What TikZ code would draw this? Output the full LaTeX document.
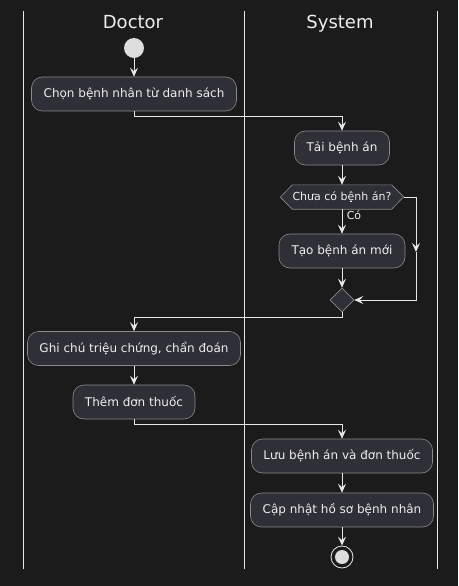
\documentclass[tikz,border=0pt]{standalone}
\usepackage{fontspec}
\setmainfont{DejaVu Sans}
\usetikzlibrary{arrows.meta,shapes.geometric,backgrounds,calc}
\definecolor{bgc}{HTML}{1B1B1B}
\definecolor{nodefill}{HTML}{2E2F37}
\definecolor{nodeborder}{HTML}{8A8A8A}
\definecolor{linec}{HTML}{E6E6E6}
\definecolor{txtc}{HTML}{EEEEEE}
\definecolor{dotc}{HTML}{DDDDDD}
\begin{document}
\begin{tikzpicture}[x=1pt,y=-1pt,
  act/.style={draw=nodeborder, fill=nodefill, rounded corners=11pt, line width=0.6pt,
    minimum height=34pt, inner sep=0pt, text=txtc, font=\fontsize{12}{14}\selectfont},
  arr/.style={draw=linec, line width=0.9pt, -{Stealth[length=9pt,width=8pt,inset=3.5pt]}},
  lane/.style={draw=linec, line width=1pt},
  title/.style={text=txtc, font=\fontsize{18}{20}\selectfont, anchor=base, inner sep=0pt}]
\begin{scope}[on background layer]
\fill[bgc] (0,0) rectangle (458,586);
\end{scope}
\useasboundingbox (0,0) rectangle (458,586);
% lanes
\draw[lane] (23,11) -- (23,569);
\draw[lane] (244,11) -- (244,569);
\draw[lane] (437,11) -- (437,569);
\node[title] (tdoc) at (133,29) {Doctor};
\node[title] (tsys) at (340,29) {System};
% nodes
\node[circle, fill=dotc, minimum size=20pt, inner sep=0pt] (start) at (134,48) {};
\node[act, minimum width=205pt] (n1) at (134,94) {Chọn bệnh nhân từ danh sách};
\node[act, minimum width=95pt] (n2) at (342,148) {Tải bệnh án};
\node[minimum width=99pt, minimum height=24pt, inner sep=0pt, text=txtc, font=\fontsize{11}{13}\selectfont] (dec) at (342,197) {Chưa có bệnh án?};
\begin{scope}[on background layer]
\draw[draw=nodeborder, fill=nodefill, line width=0.6pt] (dec.north west) -- (dec.north east) -- ++(12,12) -- (dec.south east) -- (dec.south west) -- ++(-12,-12) -- cycle;
\end{scope}
\coordinate (decR) at ($(dec.east)+(12,0)$);
\node[act, minimum width=126pt] (n3) at (342,251) {Tạo bệnh án mới};
\node[diamond, draw=nodeborder, fill=nodefill, line width=0.6pt, minimum size=24pt, inner sep=0pt] (merge) at (342,300) {};
\node[act, minimum width=213pt] (n4) at (134,348.5) {Ghi chú triệu chứng, chẩn đoán};
\node[act, minimum width=122pt] (n5) at (134,402) {Thêm đơn thuốc};
\node[act, minimum width=181pt] (n6) at (342,456) {Lưu bệnh án và đơn thuốc};
\node[act, minimum width=183pt] (n7) at (342,510) {Cập nhật hồ sơ bệnh nhân};
\node[circle, draw=linec, fill=bgc, line width=0.8pt, minimum size=22pt, inner sep=0pt] (stop) at (342,557) {};
\node[circle, fill=dotc, minimum size=14pt, inner sep=0pt] (stopin) at (342,557) {};
% connectors
\draw[arr] (start) -- (n1);
\draw[arr] (n1.south) -- ++(0,5) -| (n2.north);
\draw[arr] (n2) -- (dec.north);
\draw[arr] (dec) -- (n3) node[pos=0.25, right=1pt, text=txtc, font=\fontsize{11}{13}\selectfont] (co) {Có};
\coordinate (rtop) at (416,197);
\coordinate (rmid) at (416,252);
\coordinate (rbot) at (416,300);
\draw[arr] (decR) -- (rtop) -- (rmid);
\draw[arr] (rmid) -- (rbot) -- (merge.east);
\draw[arr] (n3) -- (merge);
\draw[arr] (merge.south) -- ++(0,5) -| (n4.north);
\draw[arr] (n4) -- (n5);
\draw[arr] (n5.south) -- ++(0,5) -| (n6.north);
\draw[arr] (n6) -- (n7);
\draw[arr] (n7) -- (stop);
\end{tikzpicture}
\end{document}
